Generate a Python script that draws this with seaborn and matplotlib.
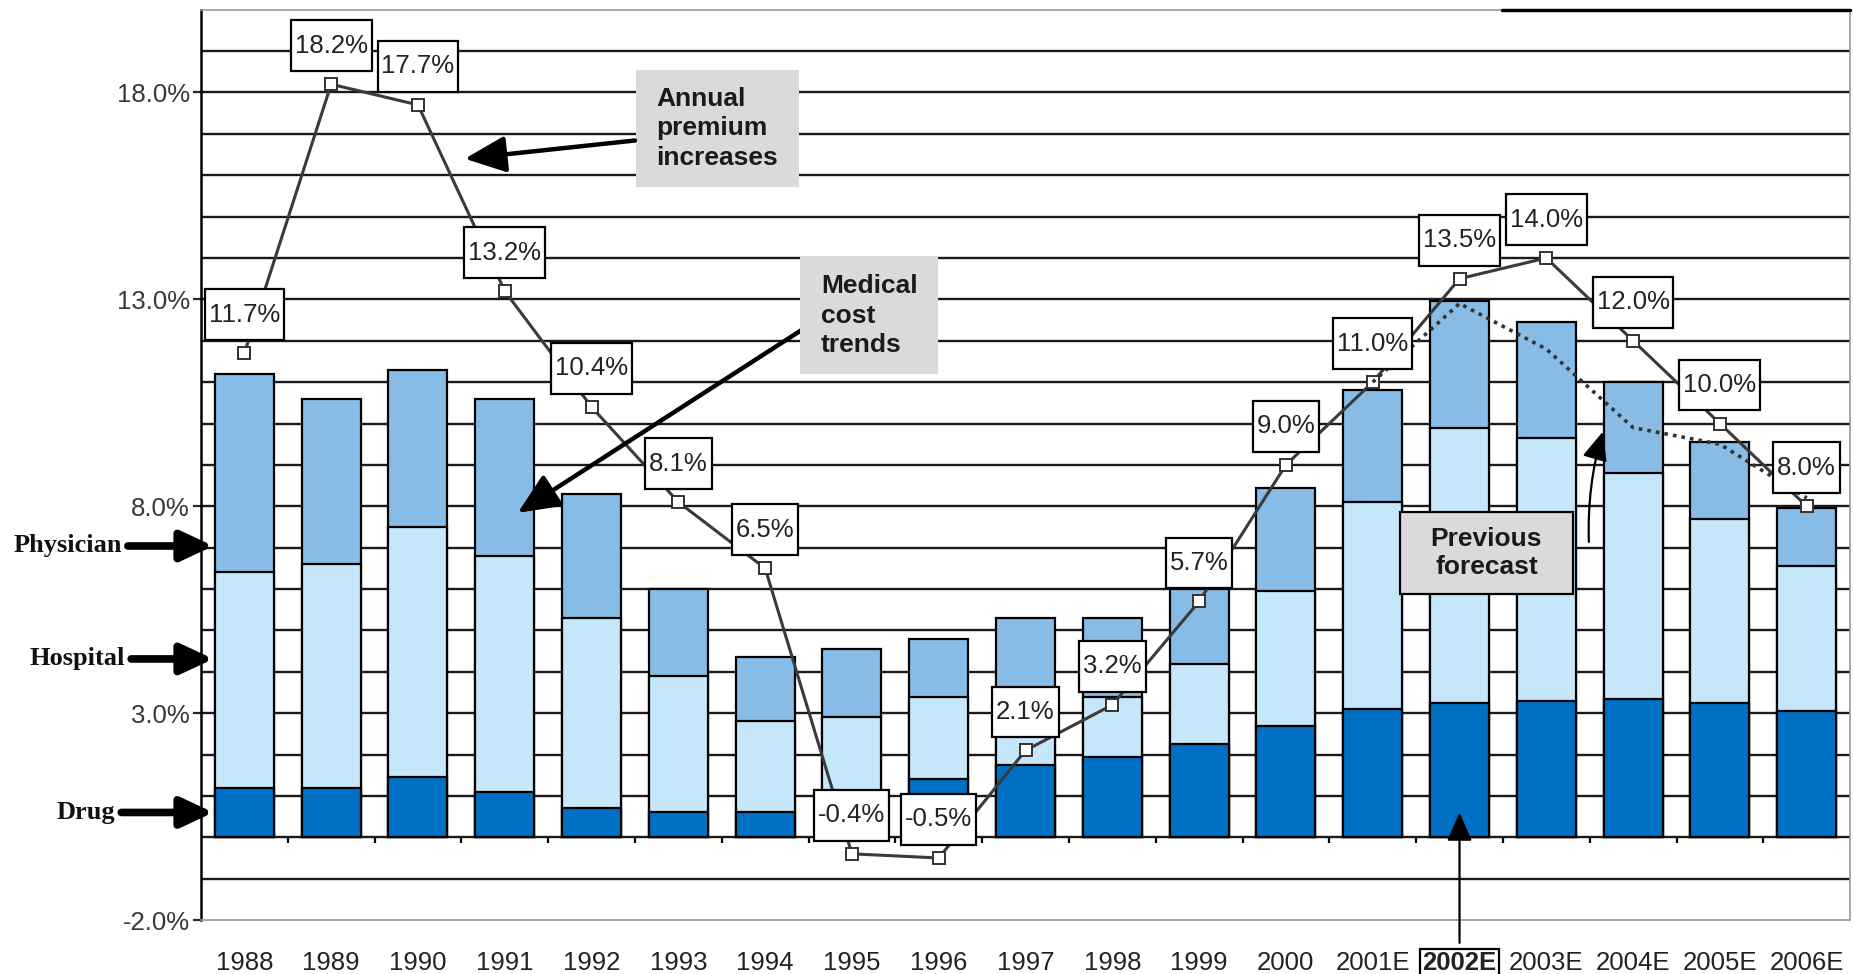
import numpy as np
import matplotlib
matplotlib.use("Agg")
from matplotlib import pyplot as plt
from matplotlib.path import Path
import seaborn as sns

sns.set_style("white")
plt.rcParams["font.family"] = ["Liberation Sans", "DejaVu Sans"]

# %% data
years = ["1988", "1989", "1990", "1991", "1992", "1993", "1994", "1995", "1996", "1997",
         "1998", "1999", "2000", "2001E", "2002E", "2003E", "2004E", "2005E", "2006E"]
drug = [1.2, 1.2, 1.45, 1.1, 0.7, 0.6, 0.6, 0.9, 1.4, 1.75,
        1.95, 2.25, 2.7, 3.1, 3.25, 3.3, 3.35, 3.25, 3.05]
hospital = [5.2, 5.4, 6.05, 5.7, 4.6, 3.3, 2.2, 2.0, 2.0, 1.15,
            1.45, 1.95, 3.25, 5.0, 6.65, 6.35, 5.45, 4.45, 3.5]
physician = [4.8, 4.0, 3.8, 3.8, 3.0, 2.1, 1.55, 1.65, 1.4, 2.4,
             1.9, 1.8, 2.5, 2.7, 3.05, 2.8, 2.2, 1.85, 1.4]
premium = [11.7, 18.2, 17.7, 13.2, 10.4, 8.1, 6.5, -0.4, -0.5, 2.1,
           3.2, 5.7, 9.0, 11.0, 13.5, 14.0, 12.0, 10.0, 8.0]
prev_years = ["2001E", "2002E", "2003E", "2004E", "2005E", "2006E"]
prev_forecast = [11.0, 12.9, 11.8, 9.9, 9.5, 8.2]
ytick_vals = [-2, 3, 8, 13, 18]

DRUG_C = "#0070C4"
HOSP_C = "#C6E6FA"
PHYS_C = "#86BCE6"
BOX_GREY = "#DADADA"

x = np.arange(len(years))
hosp_top = np.array(drug) + np.array(hospital)
phys_top = hosp_top + np.array(physician)
prev_x = [years.index(y) for y in prev_years]


def rect_box(padx, pady):
    # square box with separate horizontal / vertical padding (fractions of font size)
    def style(x0, y0, width, height, mutation_size):
        px, py = padx * mutation_size, pady * mutation_size
        return Path([(x0 - px, y0 - py), (x0 + width + px, y0 - py),
                     (x0 + width + px, y0 + height + py), (x0 - px, y0 + height + py),
                     (x0 - px, y0 - py)], closed=True)
    return style


# %% figure
fig = plt.figure(figsize=(18.54, 9.74), dpi=100)
ax = fig.add_axes([0.1084, 0.0554, 0.8895, 0.9346])

# horizontal rules every 1%
for g in range(-1, 20):
    ax.axhline(g, color="#1a1a1a", lw=1.7, zorder=0)

# stacked bars drawn as overlapping cumulative bars
for top, col in [(phys_top, PHYS_C), (hosp_top, HOSP_C), (drug, DRUG_C)]:
    sns.barplot(x=years, y=top, order=years, color=col, saturation=1, width=0.68,
                edgecolor="black", linewidth=1.6, ax=ax, zorder=2)

# small ticks on the zero line between categories
ax.vlines(x[:-1] + 0.5, -0.14, 0, color="black", lw=1.6, zorder=1)

# premium line
sns.lineplot(x=x, y=premium, ax=ax, color="#3a3a3a", lw=2.2, marker="s", markersize=9,
             markerfacecolor="white", markeredgecolor="#333333", markeredgewidth=1.4,
             zorder=4, legend=False)
ax.plot(prev_x, prev_forecast, ls=(0, (1, 1.4)), color="#333333", lw=2.6, zorder=4)

for xi, v in zip(x, premium):
    ax.text(xi, v + 0.93, f"{v:.1f}%", ha="center", va="center", fontsize=18.5, color="#222222",
            zorder=6, bbox=dict(boxstyle=rect_box(0.15, 0.52), fc="white", ec="black", lw=1.6))

ax.set_xlim(-0.5, len(years) - 0.5)
ax.set_ylim(-2, 20)

# axes styling
ax.set_yticks(ytick_vals)
ax.set_yticklabels([f"{v:.1f}%" for v in ytick_vals])
ax.tick_params(axis="y", length=6, width=1.6, direction="out", pad=2, labelsize=18.5,
               labelcolor="#383838", left=True)
ax.tick_params(axis="x", length=0, pad=22, labelsize=18.5, labelcolor="#222222")
ax.set_xlabel("")
ax.set_ylabel("")
for lbl in ax.get_xticklabels():
    if lbl.get_text() == "2002E":
        lbl.set_fontweight("bold")
        lbl.set_bbox(dict(boxstyle="square,pad=0.08", fc="white", ec="black", lw=1.6))
ax.spines["left"].set_color("black")
ax.spines["left"].set_linewidth(1.8)
for s in ["top", "right", "bottom"]:
    ax.spines[s].set_color("#9a9a9a")
    ax.spines[s].set_linewidth(1.2)
ax.axhline(20, xmin=0.789, xmax=1, color="black", lw=2.5, clip_on=False, zorder=5)

# callouts
big_head = dict(arrowstyle="-|>,head_length=0.9,head_width=0.4", lw=3.2,
                color="black", mutation_scale=28, shrinkA=0, shrinkB=0)
ax.text(5.45, 17.13, "Annual\npremium\nincreases", ha="center", va="center",
        multialignment="left", fontsize=19, fontweight="bold", color="#1a1a1a",
        linespacing=1.3, zorder=6,
        bbox=dict(boxstyle=rect_box(0.78, 0.62), fc=BOX_GREY, ec="none"))
ax.annotate("", xy=(2.54, 16.4), xytext=(4.5, 16.84), arrowprops=big_head, zorder=6)

ax.text(7.2, 12.61, "Medical\ncost\ntrends", ha="center", va="center",
        multialignment="left", fontsize=19, fontweight="bold", color="#1a1a1a",
        linespacing=1.3, zorder=6,
        bbox=dict(boxstyle=rect_box(0.78, 0.64), fc=BOX_GREY, ec="none"))
ax.annotate("", xy=(3.15, 7.84), xytext=(6.45, 12.3), arrowprops=big_head, zorder=5)

ax.text(14.31, 6.87, "Previous\nforecast", ha="center", va="center", fontsize=19,
        fontweight="bold", color="#1a1a1a", linespacing=1.25, zorder=6,
        bbox=dict(boxstyle=rect_box(1.15, 0.56), fc=BOX_GREY, ec="black", lw=1.6))
ax.annotate("", xy=(15.65, 9.8), xytext=(15.49, 7.14), zorder=6,
            arrowprops=dict(arrowstyle="-|>,head_length=0.8,head_width=0.35", lw=1.6,
                            color="black", mutation_scale=22,
                            connectionstyle="arc3,rad=-0.08", shrinkA=0, shrinkB=0))

ax.annotate("", xy=(14, 0.6), xytext=(14, -2.55), annotation_clip=False, zorder=6,
            arrowprops=dict(arrowstyle="-|>,head_length=0.8,head_width=0.35", lw=1.6,
                            color="black", mutation_scale=22, shrinkA=0, shrinkB=0))

# component arrows at the left
side_arrow = dict(arrowstyle="-|>,head_length=0.75,head_width=0.35", lw=5.5,
                  color="black", mutation_scale=26, shrinkA=2, shrinkB=0)
for name, yv, tx in [("Physician", 7.04, -0.048), ("Hospital", 4.31, -0.046), ("Drug", 0.6, -0.052)]:
    ax.annotate(name, xy=(0.0075, yv), xycoords=("axes fraction", "data"),
                xytext=(tx, yv), textcoords=("axes fraction", "data"),
                ha="right", va="center", fontsize=19, fontweight="bold",
                family=["Liberation Serif", "DejaVu Serif"], color="#111111",
                arrowprops=side_arrow, annotation_clip=False)

fig.savefig("out.png", dpi=100)
